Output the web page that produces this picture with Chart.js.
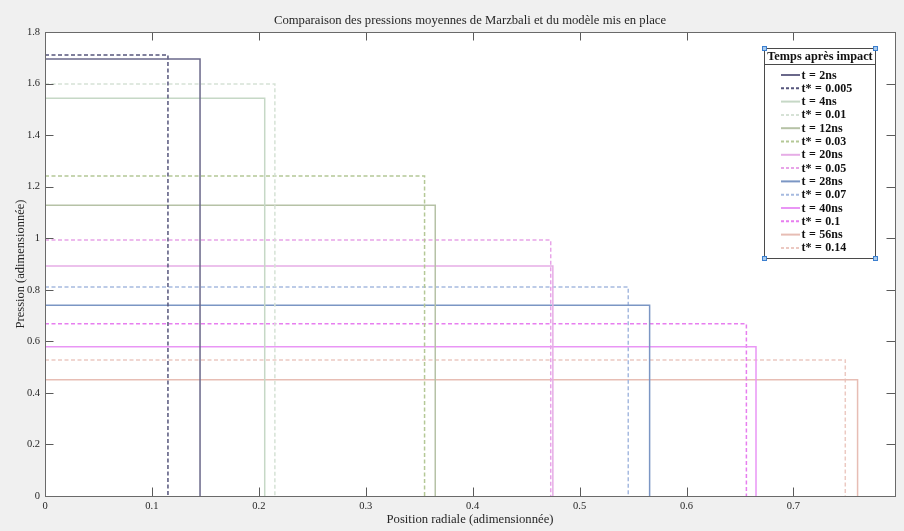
<!DOCTYPE html>
<html><head><meta charset="utf-8">
<script src="https://cdn.jsdelivr.net/npm/chart.js@4.4.1/dist/chart.umd.min.js"></script>
<style>html,body{margin:0;padding:0;background:#f0f0f0;overflow:hidden;} canvas{display:block;}</style>
</head><body>
<canvas id="c" width="904" height="531"></canvas>
<script>
// ---- data ----
const seriesLabels = ['t = 2ns','t* = 0.005','t = 4ns','t* = 0.01','t = 12ns','t* = 0.03','t = 20ns','t* = 0.05','t = 28ns','t* = 0.07','t = 40ns','t* = 0.1','t = 56ns','t* = 0.14'];
const radii = [0.145, 0.115, 0.2055, 0.215, 0.365, 0.355, 0.475, 0.473, 0.5655, 0.5455, 0.665, 0.656, 0.760, 0.7485];
const pressures = [1.695, 1.711, 1.543, 1.598, 1.128, 1.241, 0.892, 0.993, 0.740, 0.811, 0.579, 0.668, 0.451, 0.528];
const xTickValues = [0, 0.1, 0.2, 0.3, 0.4, 0.5, 0.6, 0.7];
const xTickLabels = ['0','0.1','0.2','0.3','0.4','0.5','0.6','0.7'];
const yTickValues = [0, 0.2, 0.4, 0.6, 0.8, 1.0, 1.2, 1.4, 1.6, 1.8];
const yTickLabels = ['0','0.2','0.4','0.6','0.8','1','1.2','1.4','1.6','1.8'];
const chartTitle = 'Comparaison des pressions moyennes de Marzbali et du modèle mis en place';
const xTitle = 'Position radiale (adimensionnée)';
const yTitle = 'Pression (adimensionnée)';
const legendTitle = 'Temps après impact';

// ---- styles ----
const colors = ['#6a688a','#55557c','#c6d8c6','#d6e2d6','#b6c2a6','#b4c896','#e6ade6','#e8a4e8','#7b96c4','#a6bae0','#e996f5','#e77eef','#e7bdb4','#ecc9c2'];
const dashed = [false,true,false,true,false,true,false,true,false,true,false,true,false,true];
const SERIF = '"Liberation Serif", "DejaVu Serif", serif';
const TXT = '#262626';

const datasets = seriesLabels.map((lab, i) => ({
  label: lab,
  data: [{x: 0, y: pressures[i]}, {x: radii[i], y: pressures[i]}, {x: radii[i], y: 0}],
  borderColor: colors[i],
  backgroundColor: colors[i],
  borderWidth: 1.5,
  borderDash: dashed[i] ? [4, 2.5] : [],
  pointRadius: 0,
  tension: 0,
  fill: false
}));

const decor = {
  id: 'decor',
  beforeDraw(chart) {
    const {ctx, chartArea: a} = chart;
    ctx.save();
    ctx.fillStyle = '#f0f0f0';
    ctx.fillRect(0, 0, chart.width, chart.height);
    ctx.fillStyle = '#ffffff';
    ctx.fillRect(a.left, a.top, a.right - a.left, a.bottom - a.top);
    ctx.restore();
  },
  afterDatasetsDraw(chart) {
    const {ctx, chartArea: a, scales} = chart;
    ctx.save();
    ctx.strokeStyle = '#5a5a5a';
    ctx.lineWidth = 1;
    const tl = 8.5;
    ctx.beginPath();
    xTickValues.forEach(v => {
      const px = Math.round(scales.x.getPixelForValue(v)) + 0.5;
      ctx.moveTo(px, a.bottom); ctx.lineTo(px, a.bottom - tl);
      ctx.moveTo(px, a.top); ctx.lineTo(px, a.top + tl);
    });
    yTickValues.forEach(v => {
      const py = Math.round(scales.y.getPixelForValue(v)) + 0.5;
      ctx.moveTo(a.left, py); ctx.lineTo(a.left + tl, py);
      ctx.moveTo(a.right, py); ctx.lineTo(a.right - tl, py);
    });
    ctx.stroke();
    ctx.strokeStyle = '#6a6a6a';
    ctx.strokeRect(Math.round(a.left) + 0.5, Math.round(a.top) + 0.5, Math.round(a.right - a.left), Math.round(a.bottom - a.top));
    // title
    ctx.fillStyle = TXT;
    ctx.font = '12.7px ' + SERIF;
    ctx.textAlign = 'center';
    ctx.textBaseline = 'middle';
    ctx.fillText(chartTitle, (a.left + a.right) / 2, 21);
    ctx.restore();
  },
  afterDraw(chart) {
    const {ctx} = chart;
    const L = 764, R = 875, T = 48, B = 258;
    ctx.save();
    ctx.fillStyle = '#ffffff';
    ctx.fillRect(L, T, R - L, B - T);
    ctx.strokeStyle = '#4a4a4a';
    ctx.lineWidth = 1;
    ctx.strokeRect(L + 0.5, T + 0.5, R - L, B - T);
    ctx.beginPath();
    ctx.moveTo(L, 64.5); ctx.lineTo(R, 64.5);
    ctx.stroke();
    ctx.fillStyle = '#111';
    ctx.font = 'bold 12.3px ' + SERIF;
    ctx.textAlign = 'center';
    ctx.textBaseline = 'middle';
    ctx.fillText(legendTitle, (L + R) / 2 + 0.5, 57);
    ctx.textAlign = 'left';
    ctx.font = 'bold 12px ' + SERIF;
    chart.data.datasets.forEach((ds, i) => {
      const y = 75 + i * 13.3;
      ctx.strokeStyle = ds.borderColor;
      ctx.lineWidth = 2;
      ctx.setLineDash(ds.borderDash && ds.borderDash.length ? [3, 2] : []);
      ctx.beginPath();
      ctx.moveTo(781, y); ctx.lineTo(800, y);
      ctx.stroke();
      ctx.setLineDash([]);
      ctx.fillStyle = '#111';
      // math-style spacing around "="
      const parts = ds.label.split(' = ');
      let x = 801.5;
      ctx.fillText(parts[0], x, y + 0.5);
      x += ctx.measureText(parts[0]).width + 3.5;
      ctx.fillText('=', x, y + 0.5);
      x += ctx.measureText('=').width + 3.5;
      ctx.fillText(parts[1], x, y + 0.5);
    });
    // selection handles
    ctx.fillStyle = '#a9cbee';
    ctx.strokeStyle = '#3b7fcf';
    ctx.lineWidth = 1;
    [[L, T], [R, T], [L, B], [R, B]].forEach(([x, y]) => {
      ctx.fillRect(x - 2, y - 2, 5, 5);
      ctx.strokeRect(x - 2 + 0.5, y - 2 + 0.5, 4, 4);
    });
    ctx.restore();
  }
};

new Chart(document.getElementById('c'), {
  type: 'line',
  data: {datasets},
  options: {
    responsive: false,
    animation: false,
    devicePixelRatio: 1,
    layout: {padding: {top: 32, right: 9, left: 0, bottom: 0}},
    plugins: {legend: {display: false}, title: {display: false}, tooltip: {enabled: false}},
    scales: {
      x: {
        type: 'linear', min: 0, max: 0.795,
        afterFit: s => { s.height = 35; },
        afterBuildTicks: s => { s.ticks = xTickValues.map(v => ({value: v})); },
        grid: {display: false, drawTicks: false},
        border: {display: false},
        ticks: {padding: 4, color: TXT, font: {family: SERIF, size: 10.5}, maxRotation: 0, autoSkip: false,
          callback: (v) => { const k = xTickValues.findIndex(t => Math.abs(t - v) < 1e-9); return k >= 0 ? xTickLabels[k] : ''; }},
        title: {display: true, text: xTitle, color: TXT, font: {family: SERIF, size: 12.7}, padding: {top: 0, bottom: 4}}
      },
      y: {
        type: 'linear', min: 0, max: 1.8,
        afterFit: s => { s.width = 45; },
        afterBuildTicks: s => { s.ticks = yTickValues.map(v => ({value: v})); },
        grid: {display: false, drawTicks: false},
        border: {display: false},
        ticks: {padding: 5, color: TXT, font: {family: SERIF, size: 10.5}, autoSkip: false,
          callback: (v) => { const k = yTickValues.findIndex(t => Math.abs(t - v) < 1e-9); return k >= 0 ? yTickLabels[k] : ''; }},
        title: {display: true, text: yTitle, color: TXT, font: {family: SERIF, size: 12.5}, padding: {top: 13, bottom: 0}}
      }
    }
  },
  plugins: [decor]
});
</script>
</body></html>
